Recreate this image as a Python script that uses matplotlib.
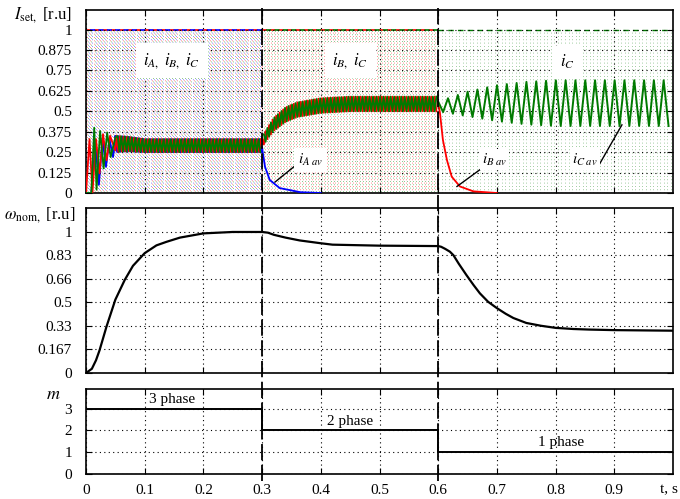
import numpy as np
import matplotlib
matplotlib.use("Agg")
import matplotlib.pyplot as plt
from matplotlib.lines import Line2D
from matplotlib.transforms import blended_transform_factory

plt.rcParams['font.family'] = ['Liberation Serif', 'DejaVu Serif']
plt.rcParams['mathtext.fontset'] = 'stix'
plt.rcParams['font.size'] = 11

BLUE, RED, GREEN = '#0000ff', '#ff0000', '#007a00'

# ---------------- data ----------------
# start-up transients of the phase currents (turning points)
ia_start_t = [0.0, 0.009, 0.016, 0.022, 0.028, 0.034, 0.040, 0.046, 0.050]
ia_start_v = [0.0, 0.0, 0.30, 0.05, 0.33, 0.16, 0.33, 0.22, 0.32]
ib_start_t = [0.0, 0.006, 0.011, 0.017, 0.023, 0.029, 0.035, 0.041, 0.050]
ib_start_v = [0.0, 0.33, 0.0, 0.33, 0.12, 0.36, 0.20, 0.35, 0.26]
ic_start_t = [0.0, 0.009, 0.014, 0.018, 0.024, 0.030, 0.036, 0.042, 0.050]
ic_start_v = [0.0, 0.0, 0.40, 0.02, 0.38, 0.15, 0.37, 0.22, 0.34]

# 3-phase band (0.05..0.3): mean and half ripple
band3_t = [0.05, 0.07, 0.10, 0.30]
band3_mean = [0.30, 0.30, 0.29, 0.29]
band3_amp = [0.05, 0.045, 0.04, 0.04]

# 2-phase band (0.3..0.6)
band2_t = [0.30, 0.31, 0.32, 0.34, 0.36, 0.40, 0.45, 0.60]
band2_mean = [0.31, 0.37, 0.42, 0.48, 0.51, 0.535, 0.545, 0.545]
band2_amp = [0.03, 0.035, 0.04, 0.045, 0.045, 0.045, 0.045, 0.045]

# phase C current in 1-phase mode (0.6..1.0): upper / lower envelope
ic1_t = [0.60, 0.65, 0.70, 0.75, 0.80, 1.00]
ic1_hi = [0.56, 0.62, 0.66, 0.68, 0.69, 0.69]
ic1_lo = [0.50, 0.47, 0.44, 0.42, 0.41, 0.41]

# decaying average currents
ia_av_t = [0.300, 0.301, 0.305, 0.313, 0.330, 0.365, 0.400]
ia_av_v = [0.28, 0.25, 0.16, 0.08, 0.03, 0.005, 0.0]
ib_av_t = [0.600, 0.603, 0.608, 0.615, 0.623, 0.637, 0.660, 0.700]
ib_av_v = [0.55, 0.49, 0.325, 0.20, 0.10, 0.04, 0.01, 0.0]

# speed
w_t = [0, 0.01, 0.017, 0.023, 0.035, 0.05, 0.066, 0.08, 0.1, 0.12, 0.137, 0.16,
       0.2, 0.25, 0.3, 0.31, 0.32, 0.34, 0.364, 0.4, 0.42, 0.5, 0.6, 0.605,
       0.612, 0.62, 0.626, 0.635, 0.648, 0.66, 0.671, 0.685, 0.7, 0.715,
       0.728, 0.75, 0.775, 0.8, 0.83, 0.857, 0.9, 1.0]
w_v = [0, 0.03, 0.09, 0.16, 0.33, 0.52, 0.66, 0.76, 0.85, 0.905, 0.93, 0.96,
       0.99, 1.0, 1.0, 0.995, 0.98, 0.96, 0.94, 0.92, 0.91, 0.903, 0.9, 0.895,
       0.88, 0.86, 0.835, 0.775, 0.695, 0.625, 0.565, 0.505, 0.46, 0.42,
       0.39, 0.355, 0.335, 0.32, 0.312, 0.308, 0.304, 0.30]

# number of phases
m_t = [0.0, 0.3, 0.3, 0.6, 0.6, 1.0]
m_v = [3, 3, 2, 2, 1, 1]

i_yticks = [0, 0.125, 0.25, 0.375, 0.5, 0.625, 0.75, 0.875, 1]
i_ylabels = ['0', '0.125', '0.25', '0.375', '0.5', '0.625', '0.75', '0.875', '1']
w_yticks = [0, 1/6, 2/6, 3/6, 4/6, 5/6, 1]
w_ylabels = ['0', '0.167', '0.33', '0.5', '0.66', '0.83', '1']
m_yticks = [0, 1, 2, 3]
x_ticks = [0, 0.1, 0.2, 0.3, 0.4, 0.5, 0.6, 0.7, 0.8, 0.9]
x_labels = ['0', '0.1', '0.2', '0.3', '0.4', '0.5', '0.6', '0.7', '0.8', '0.9']

# ---------------- figure ----------------
fig = plt.figure(figsize=(6.8, 4.99), dpi=100)
W, H = 680, 499
def pos(l, r, t, b):
    return [l / W, 1 - b / H, (r - l) / W, (b - t) / H]

ax1 = fig.add_axes(pos(86, 673, 10, 193))
ax2 = fig.add_axes(pos(86, 673, 208, 373))
ax3 = fig.add_axes(pos(86, 673, 389, 474))

grid_kw = dict(color='black', linestyle=(0, (1, 3)), linewidth=0.8)
for ax in (ax1, ax2, ax3):
    ax.set_xlim(0, 1.0)
    ax.set_xticks(x_ticks)
    ax.grid(True, **grid_kw)
    ax.tick_params(direction='in', top=True, right=True, length=4, width=0.8,
                   labelsize=11, pad=10)
    ax.tick_params(axis='x', pad=7)
    for s in ax.spines.values():
        s.set_linewidth(1.2)
    ax.set_axisbelow(False)
ax1.set_xticklabels([])
ax2.set_xticklabels([])
ax3.set_xticklabels(x_labels)

# ---- top panel: switching texture ----
def texture(ax, t0, t1, dt, color, off, dash_off, alpha=0.6):
    tt = np.arange(t0 + off, t1, dt)
    ax.vlines(tt, 0, 1, colors=color, linestyles=[(dash_off, (1, 3))],
              linewidth=0.6, alpha=alpha, zorder=1)

texture(ax1, 0.0, 0.3, 0.0055, BLUE, 0.0, 0)
texture(ax1, 0.0, 0.3, 0.0055, RED, 0.0018, 1.3)
texture(ax1, 0.0, 0.3, 0.0055, GREEN, 0.0036, 2.6)
texture(ax1, 0.3, 0.6, 0.005, RED, 0.0, 0)
texture(ax1, 0.3, 0.6, 0.005, GREEN, 0.0025, 2.0)
texture(ax1, 0.6, 1.0, 0.006, GREEN, 0.0, 0, alpha=0.5)

ax1.plot([0, 0.3], [1, 1], color=RED, lw=1.2, ls=(0, (3, 2)), zorder=2)
ax1.plot([0, 0.3], [1, 1], color=BLUE, lw=1.2, ls=(2.5, (3, 2)), zorder=2)
ax1.plot([0.3, 0.6], [1, 1], color=RED, lw=1.2, ls=(0, (3, 2)), zorder=2)
ax1.plot([0.3, 0.6], [1, 1], color=GREEN, lw=1.2, ls=(2.5, (3, 2)), zorder=2)
ax1.plot([0.6, 1.0], [1, 1], color=GREEN, lw=1.0, ls=(0, (4, 3)), zorder=2)

def zigzag(env_t, mean, amp, period, phase, t0, t1):
    tt = np.arange(t0 + phase, t1, period / 2)
    m = np.interp(tt, env_t, mean)
    a = np.interp(tt, env_t, amp)
    sign = np.where(np.arange(len(tt)) % 2 == 0, 1, -1)
    return tt, m + sign * a

# 3-phase currents
for st, sv, col, ph in ((ia_start_t, ia_start_v, BLUE, 0.0),
                        (ib_start_t, ib_start_v, RED, 0.002),
                        (ic_start_t, ic_start_v, GREEN, 0.004)):
    zt, zv = zigzag(band3_t, band3_mean, band3_amp, 0.006, ph, 0.05, 0.3)
    tt = np.concatenate([st, zt])
    vv = np.concatenate([sv, zv])
    ax1.plot(tt, vv, color=col, lw=1.3, zorder=3)

# phase A decays
ax1.plot(ia_av_t, ia_av_v, color=BLUE, lw=1.3, zorder=3)

# 2-phase currents
for col, ph in ((RED, 0.0), (GREEN, 0.003)):
    zt, zv = zigzag(band2_t, band2_mean, band2_amp, 0.006, ph, 0.3, 0.6)
    ax1.plot(zt, zv, color=col, lw=1.3, zorder=3)

# phase B decays
ax1.plot(ib_av_t, ib_av_v, color=RED, lw=1.3, zorder=3)

# phase C single-phase
mean1 = (np.array(ic1_hi) + np.array(ic1_lo)) / 2
amp1 = (np.array(ic1_hi) - np.array(ic1_lo)) / 2
zt, zv = zigzag(ic1_t, mean1, amp1, 0.0167, 0.0, 0.6, 1.0)
ax1.plot(zt, zv, color=GREEN, lw=1.4, zorder=3)

ax1.set_ylim(0, 1.12)
ax1.set_yticks(i_yticks)
ax1.set_yticklabels(i_ylabels)

box = dict(boxstyle='square,pad=0.45', fc='white', ec='none')
ax1.text(0.146, 0.81, r'$i_{A,}\ i_{B,}\ i_{C}$', ha='center', va='center',
         fontsize=12, bbox=box, zorder=5)
ax1.text(0.45, 0.81, r'$i_{B,}\ i_{C}$', ha='center', va='center',
         fontsize=12, bbox=box, zorder=5)
ax1.text(0.82, 0.80, r'$i_{C}$', ha='center', va='center',
         fontsize=12, bbox=box, zorder=5)

ax1.plot([0.322, 0.356], [0.067, 0.166], color='black', lw=1.0, zorder=5)
ax1.text(0.383, 0.20, r'$i_{A\ av}$', ha='center', va='center', fontsize=11,
         bbox=dict(boxstyle='square,pad=0.25', fc='white', ec='none'), zorder=5)
ax1.plot([0.632, 0.675, 0.717], [0.04, 0.153, 0.153], color='black', lw=1.0, zorder=5)
ax1.text(0.696, 0.205, r'$i_{B\ av}$', ha='center', va='center', fontsize=11,
         bbox=dict(boxstyle='square,pad=0.15', fc='white', ec='none'), zorder=5)
ax1.plot([0.83, 0.871, 0.913], [0.153, 0.153, 0.417], color='black', lw=1.0, zorder=5)
ax1.text(0.85, 0.205, r'$i_{C\ av}$', ha='center', va='center', fontsize=11,
         bbox=dict(boxstyle='square,pad=0.15', fc='white', ec='none'), zorder=5)

ax1.text(-0.073, 0.975, r'$I_{\mathrm{set,}}$ [r.u]', transform=ax1.transAxes,
         ha='center', va='center', fontsize=12)

# ---- middle panel ----
ax2.plot(w_t, w_v, color='black', lw=1.6, zorder=3)
ax2.set_ylim(0, 1.17)
ax2.set_yticks(w_yticks)
ax2.set_yticklabels(w_ylabels)
ax2.text(-0.078, 0.958, r'$\omega_{\mathrm{nom,}}$ [r.u]', transform=ax2.transAxes,
         ha='center', va='center', fontsize=12)

# ---- bottom panel ----
ax3.plot(m_t, m_v, color='black', lw=1.4, zorder=3)
ax3.set_ylim(0, 3.9)
ax3.set_yticks(m_yticks)
ax3.set_yticklabels(['0', '1', '2', '3'])
ax3.text(0.146, 3.4, '3 phase', ha='center', va='center', fontsize=11)
ax3.text(0.45, 2.4, '2 phase', ha='center', va='center', fontsize=11)
ax3.text(0.81, 1.45, '1 phase', ha='center', va='center', fontsize=11)
ax3.text(-0.056, 0.93, r'$m$', transform=ax3.transAxes, ha='center',
         va='center', fontsize=13)

fig.text(678 / W, 1 - 490 / H, 't, s', ha='right', va='center', fontsize=11)

# ---- mode-switch markers spanning all panels ----
tr = blended_transform_factory(ax3.transData, fig.transFigure)
for xs in (0.3, 0.6):
    fig.add_artist(Line2D([xs, xs], [1 - 8 / H, 1 - 481 / H], transform=tr,
                          color='black', lw=1.3, ls=(0, (9, 2.5)), zorder=10))

fig.savefig('out.png', dpi=100)
